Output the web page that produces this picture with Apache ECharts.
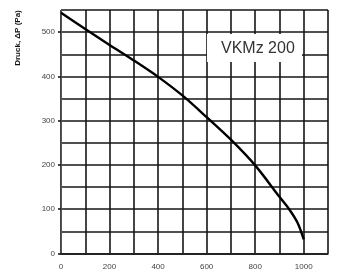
<!DOCTYPE html>
<html>
<head>
<meta charset="utf-8">
<script src="https://cdn.jsdelivr.net/npm/echarts@6/dist/echarts.min.js"></script>
<style>html,body{margin:0;padding:0;background:#fff}#c{width:337px;height:273px}</style>
</head>
<body>
<div id="c"></div>
<script>
var flowValues = [0, 100, 200, 300, 400, 500, 600, 700, 800, 900, 940, 975, 1000];
var pressureValues = [544, 507, 471, 436, 399, 357, 308, 257, 199, 128, 100, 69, 32];
var xTickLabels = [0, 200, 400, 600, 800, 1000];
var yTickLabels = [0, 100, 200, 300, 400, 500];
var yAxisTitle = 'Druck, ΔP (Pa)';
var modelLabel = 'VKMz 200';

var chart = echarts.init(document.getElementById('c'), null, {renderer: 'canvas'});
var gridLine = {show: true, lineStyle: {color: '#161616', width: 1.6}};
var labelStyle = {color: '#444', fontSize: 8, fontFamily: 'Liberation Sans, Arial, sans-serif',
  formatter: function (v) { return String(v); }};
chart.setOption({
  animation: false,
  grid: {left: 61, right: 9, top: 10, bottom: 19.5},
  xAxis: [{
    type: 'value', min: 0, max: 1100, interval: 100,
    axisLine: {show: true, lineStyle: {color: '#161616', width: 1.6}},
    axisTick: {show: false},
    axisLabel: {show: false},
    splitLine: gridLine
  }, {
    type: 'value', min: 0, max: 1100, position: 'bottom',
    axisLine: {show: false}, axisTick: {show: false}, splitLine: {show: false},
    axisLabel: Object.assign({customValues: xTickLabels, margin: 9}, labelStyle)
  }],
  yAxis: [{
    type: 'value', min: 0, max: 550, interval: 50,
    axisLine: {show: true, lineStyle: {color: '#555', width: 1}},
    axisTick: {show: false},
    axisLabel: {show: false},
    splitLine: gridLine
  }, {
    type: 'value', min: 0, max: 550, position: 'left',
    axisLine: {show: false}, splitLine: {show: false},
    axisTick: {show: true, customValues: yTickLabels, length: 3, lineStyle: {color: '#161616', width: 1.6}},
    axisLabel: Object.assign({customValues: yTickLabels, margin: 6}, labelStyle)
  }],
  graphic: [
    {type: 'text', x: 18, y: 38, rotation: Math.PI / 2,
     style: {text: yAxisTitle, font: 'bold 8px Liberation Sans, Arial, sans-serif', fill: '#111', textAlign: 'center', textVerticalAlign: 'middle'}},
    {type: 'rect', z: 100, shape: {x: 207, y: 34, width: 95, height: 28}, style: {fill: '#fff'}},
    {type: 'text', z: 101, x: 221, y: 49,
     style: {text: modelLabel, font: '16px Liberation Sans, Arial, sans-serif', fill: '#333', textAlign: 'left', textVerticalAlign: 'middle'}}
  ],
  series: [{
    type: 'line', smooth: 0.3, symbol: 'none', xAxisIndex: 0, yAxisIndex: 0,
    lineStyle: {color: '#000', width: 2.4},
    data: flowValues.map(function (x, i) { return [x, pressureValues[i]]; })
  }]
});
</script>
</body>
</html>
